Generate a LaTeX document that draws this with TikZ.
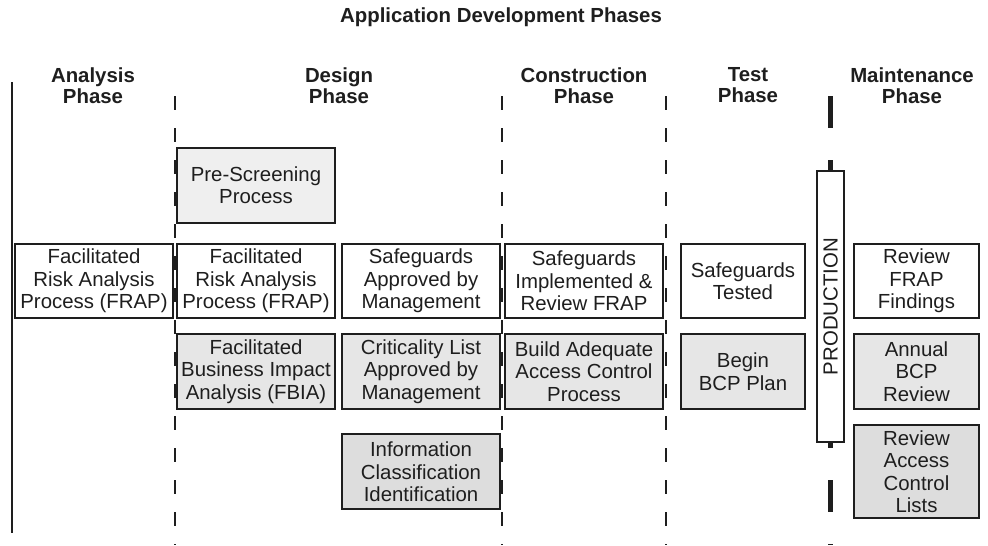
\documentclass[tikz,border=0pt]{standalone}
\usepackage{fontspec}
\setmainfont{Liberation Sans}
\usetikzlibrary{positioning}
\definecolor{ink}{HTML}{1E1E1E}
\definecolor{paleFill}{HTML}{EFEFEF}
\definecolor{midFill}{HTML}{E6E6E6}
\definecolor{deepFill}{HTML}{DDDDDD}

\begin{document}
\begin{tikzpicture}[
    task/.style={draw=ink, line width=1.2pt, fill=white, align=center,
                 font=\fontsize{11.6}{12.8}\selectfont, text=ink,
                 minimum width=3.16cm, minimum height=1.48cm, inner sep=0pt},
    shaded/.style={task, fill=midFill, minimum height=1.5cm},
    narrow/.style={minimum width=2.5cm},
    phase/.style={align=center, font=\fontsize{11.6}{12}\selectfont\bfseries,
                  text=ink, inner sep=0pt},
    head/.style={phase, anchor=north},
    divider/.style={ink, line width=1.5pt, dash pattern=on 0.28cm off 0.36cm},
    golive/.style={ink, line width=2.3pt, dash pattern=on 0.64cm off 0.64cm},
  ]
  \useasboundingbox (0,0) rectangle (19.76,10.9);

  \node[phase] (title) at (10.02,10.56) {Application Development Phases};
  \node[head] (hAna) at (1.86,9.56) {Analysis\\Phase};
  \node[head] (hDes) at (6.78,9.56) {Design\\Phase};
  \node[head] (hCon) at (11.68,9.56) {Construction\\Phase};
  \node[head] (hTst) at (14.96,9.56) {Test\\Phase};
  \node[head] (hMnt) at (18.24,9.56) {Maintenance\\Phase};

  % phase boundaries (drawn first so the boxes sit on top)
  \draw[ink, line width=1.3pt] (0.24,9.26) -- (0.24,0.24);
  \foreach \x in {3.5,10.04,13.32}
    \draw[divider] (\x,8.98) -- (\x,0);
  \draw[golive] (16.61,8.98) -- (16.61,0);

  % main row
  \node[task] (fA) at (1.88,5.28) {Facilitated\\Risk Analysis\\Process (FRAP)};
  \node[task] (fD) at (5.12,5.28) {Facilitated\\Risk Analysis\\Process (FRAP)};
  \node[task] (sApp) at (8.42,5.28) {Safeguards\\Approved by\\Management};
  \node[task] (sImp) at (11.68,5.28) {Safeguards\\Implemented \&\\Review FRAP};
  \node[task, narrow, minimum width=2.48cm] (sTest) at (14.86,5.28)
       {Safeguards\\Tested};
  \node[task, narrow] (rFrap) at (18.33,5.28) {Review\\FRAP\\Findings};

  % shaded rows
  \node[task, fill=paleFill, minimum height=1.5cm, above=0.38cm of fD] (pre)
       {Pre-Screening\\Process};
  \node[shaded, below=0.28cm of fD] (fbia)
       {Facilitated\\Business Impact\\Analysis (FBIA)};
  \node[shaded, below=0.28cm of sApp] (crit)
       {Criticality List\\Approved by\\Management};
  \node[shaded, below=0.28cm of sImp] (acc)
       {Build Adequate\\Access Control\\Process};
  \node[shaded, narrow, minimum width=2.48cm, below=0.28cm of sTest] (bcp)
       {Begin\\BCP Plan};
  \node[shaded, narrow, below=0.28cm of rFrap] (annual) {Annual\\BCP\\Review};
  \node[task, fill=deepFill, minimum height=1.5cm, below=0.46cm of crit] (info)
       {Information\\Classification\\Identification};
  \node[task, narrow, fill=deepFill, minimum height=1.86cm,
        below=0.28cm of annual] (acl) {Review\\Access\\Control\\Lists};

  \node[task, rotate=90, minimum width=5.42cm, minimum height=0.54cm]
       (prod) at (16.61,4.77) {PRODUCTION};
\end{tikzpicture}
\end{document}
